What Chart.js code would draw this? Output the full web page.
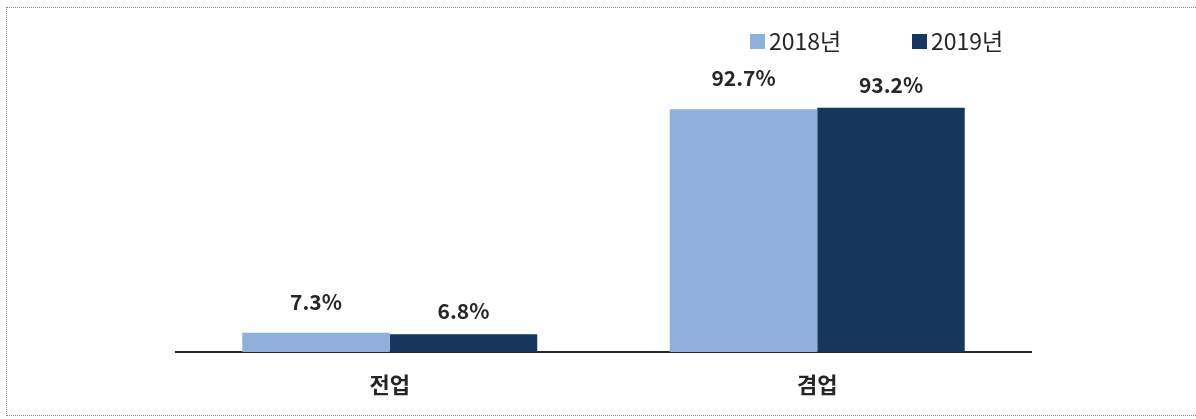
<!DOCTYPE html>
<html>
<head>
<meta charset="utf-8">
<script src="https://cdn.jsdelivr.net/npm/chart.js@4/dist/chart.umd.min.js"></script>
<style>
  html, body { margin: 0; padding: 0; background: #fff; }
  #wrap { position: relative; width: 1196px; height: 419px; }
  #frame {
    position: absolute; left: 6px; top: 7px; width: 1200px; height: 409px;
    border: 1px dotted #8a8a8a; border-right: none; box-sizing: border-box;
    pointer-events: none;
  }
</style>
</head>
<body>
<div id="wrap">
  <canvas id="chart"></canvas>
  <div id="frame"></div>
</div>
<script>
  // chart data
  const categories = ['전업', '겸업'];
  const seriesNames = ['2018년', '2019년'];
  const values2018 = [7.3, 92.7];
  const values2019 = [6.8, 93.2];
  const seriesColors = ['#8EB0DA', '#17365D'];

  const FONT = "'Noto Sans CJK KR', 'Noto Sans', sans-serif";

  // value labels above each bar, plus a hand-placed legend
  const labelPlugin = {
    id: 'barLabels',
    afterDatasetsDraw(chart) {
      const ctx = chart.ctx;
      const lift = [31, 23];
      ctx.save();
      ctx.font = 'bold 21px ' + FONT;
      ctx.fillStyle = '#262626';
      ctx.textAlign = 'center';
      ctx.textBaseline = 'middle';
      chart.data.datasets.forEach((ds, i) => {
        chart.getDatasetMeta(i).data.forEach((bar, j) => {
          ctx.fillText(ds.data[j].toFixed(1) + '%', bar.x, bar.y - lift[i]);
        });
      });
      ctx.restore();
    },
    afterDraw(chart) {
      const ctx = chart.ctx;
      const startX = [750, 912];
      ctx.save();
      ctx.font = '23px ' + FONT;
      ctx.textBaseline = 'middle';
      ctx.textAlign = 'left';
      seriesNames.forEach((name, i) => {
        ctx.fillStyle = seriesColors[i];
        ctx.fillRect(startX[i], 34, 15, 15);
        ctx.fillStyle = '#262626';
        ctx.fillText(name, startX[i] + 19, 41);
      });
      ctx.restore();
    }
  };

  const ctx = document.getElementById('chart').getContext('2d');
  new Chart(ctx, {
    type: 'bar',
    data: {
      labels: categories,
      datasets: [
        { label: seriesNames[0], data: values2018, backgroundColor: seriesColors[0] },
        { label: seriesNames[1], data: values2019, backgroundColor: seriesColors[1] }
      ]
    },
    options: {
      responsive: true,
      maintainAspectRatio: false,
      animation: false,
      layout: { padding: { left: 176, right: 165, top: 90, bottom: 1 } },
      datasets: {
        bar: { categoryPercentage: 0.69, barPercentage: 1.0 }
      },
      scales: {
        x: {
          grid: { display: false, drawTicks: false },
          border: { display: true, color: '#262626', width: 2 },
          ticks: {
            color: '#262626',
            padding: 22,
            font: { family: FONT, size: 22, weight: 'bold', lineHeight: 1.0 }
          }
        },
        y: {
          display: false,
          min: 0,
          max: 100
        }
      },
      plugins: {
        legend: { display: false },
        tooltip: { enabled: false }
      }
    },
    plugins: [labelPlugin]
  });
</script>
</body>
</html>
